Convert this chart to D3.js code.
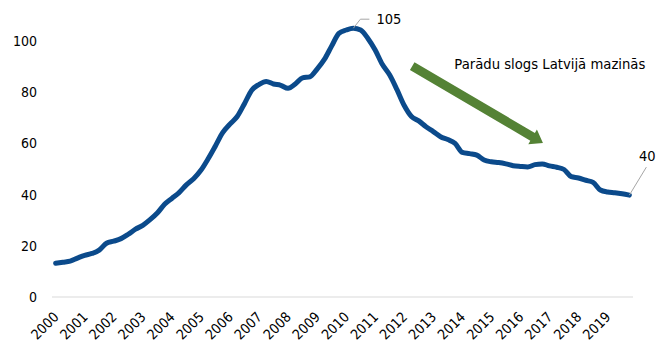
<!DOCTYPE html>
<html>
<head>
<meta charset="utf-8">
<script src="https://cdn.jsdelivr.net/npm/d3@7"></script>
<style>
  body { margin: 0; background: #fff; }
  text { font-family: "DejaVu Sans Condensed", "DejaVu Sans", sans-serif; fill: #000; }
</style>
</head>
<body>
<div id="chart"></div>
<script>
// year labels (one per 4 quarters)
const years = ['2000', '2001', '2002', '2003', '2004', '2005', '2006', '2007', '2008', '2009',
    '2010', '2011', '2012', '2013', '2014', '2015', '2016', '2017', '2018', '2019'];

// quarterly values, 2000Q1 .. 2019Q4
const values = [
    13.2, 13.6, 14.0, 15.2, 16.3, 17.0, 18.3, 21.0, 21.8, 22.8,
    24.5, 26.5, 28.0, 30.2, 32.8, 36.2, 38.5, 40.8, 43.8, 46.2,
    49.5, 54.0, 59.0, 64.2, 67.5, 70.5, 75.5, 80.8, 83.0, 84.2,
    83.2, 82.7, 81.5, 83.2, 85.6, 86.0, 89.0, 92.8, 98.0, 103.0,
    104.3, 105.0, 104.3, 101.0, 96.5, 90.8, 86.7, 81.0, 74.8, 70.5,
    68.8, 66.5, 64.6, 62.6, 61.5, 60.0, 56.5, 56.0, 55.4, 53.5,
    52.8, 52.5, 52.0, 51.3, 51.0, 50.8, 51.7, 52.0, 51.2, 50.7,
    49.8, 47.0, 46.5, 45.6, 44.8, 41.8, 41.0, 40.7, 40.3, 39.8
];

const yTicks = [0, 20, 40, 60, 80, 100];

// trend arrow, in data space (quarter index, value)
const arrowFrom = [49.1, 90.2];
const arrowTo = [67.1, 60.2];
const arrowText = 'Parādu slogs Latvijā mazinās';
const arrowTextAt = [54.9, 89];

const config = {
    width: 667,
    height: 351,
    margin: {top: 41, right: 34, bottom: 54, left: 52}
};

const innerW = config.width - config.margin.left - config.margin.right;
const innerH = config.height - config.margin.top - config.margin.bottom;

const svg = d3.select('#chart').append('svg')
    .attr('width', config.width)
    .attr('height', config.height);
const chart = svg.append('g')
    .attr('transform', `translate(${config.margin.left}, ${config.margin.top})`);

const quarters = d3.range(values.length);

const xBand = d3.scaleBand()
    .domain(quarters)
    .range([0, innerW]);
const xPos = i => xBand(0) + xBand.step() * i + xBand.bandwidth() / 2;

const yScale = d3.scaleLinear()
    .domain([0, 100])
    .range([innerH, 0]);

// y axis labels, no line, no ticks
const yAxis = d3.axisLeft(yScale)
    .tickValues(yTicks)
    .tickSize(0)
    .tickPadding(15);
const yAxisGroup = chart.append('g')
    .attr('class', 'axis y-axis')
    .call(yAxis);
yAxisGroup.select('.domain').remove();
yAxisGroup.selectAll('text')
    .style('font-family', '"DejaVu Sans Condensed", "DejaVu Sans", sans-serif')
    .style('font-size', '14px')
    .attr('fill', '#000');

// baseline
chart.append('line')
    .attr('x1', 0)
    .attr('x2', innerW)
    .attr('y1', yScale(0))
    .attr('y2', yScale(0))
    .attr('stroke', '#d9d9d9')
    .attr('stroke-width', 1);

// year labels, rotated
chart.append('g')
    .attr('class', 'axis x-axis')
    .selectAll('text')
    .data(years)
    .join('text')
    .attr('transform', (d, i) => `translate(${xPos(i * 4) - 3}, ${innerH + 14}) rotate(-45)`)
    .attr('text-anchor', 'end')
    .attr('dy', '0.7em')
    .style('font-size', '14px')
    .text(d => d);

// main line
const line = d3.line()
    .x((d, i) => xPos(i))
    .y(d => yScale(d))
    .curve(d3.curveMonotoneX);

chart.append('path')
    .attr('d', line(values))
    .attr('fill', 'none')
    .attr('stroke', '#0b4a8b')
    .attr('stroke-width', 5)
    .attr('stroke-linejoin', 'round')
    .attr('stroke-linecap', 'round');

// peak label
const peakIdx = d3.maxIndex(values);
const px = xPos(peakIdx), py = yScale(values[peakIdx]);
chart.append('path')
    .attr('d', `M${px},${py} L${px + 7},${py - 9} L${px + 16},${py - 9}`)
    .attr('fill', 'none')
    .attr('stroke', '#a6a6a6')
    .attr('stroke-width', 1);
chart.append('text')
    .attr('x', px + 23)
    .attr('y', py - 9)
    .attr('dy', '0.35em')
    .style('font-size', '14.5px')
    .text(d3.format('.0f')(values[peakIdx]));

// last value label
const lastIdx = values.length - 1;
const lx = xPos(lastIdx), ly = yScale(values[lastIdx]);
chart.append('line')
    .attr('x1', lx)
    .attr('y1', ly)
    .attr('x2', lx + 17)
    .attr('y2', ly - 28)
    .attr('stroke', '#a6a6a6')
    .attr('stroke-width', 1);
chart.append('text')
    .attr('x', lx + 18)
    .attr('y', ly - 34)
    .attr('text-anchor', 'middle')
    .style('font-size', '14.5px')
    .text(d3.format('.0f')(values[lastIdx]));

// trend arrow
const ax0 = xPos(arrowFrom[0]), ay0 = yScale(arrowFrom[1]);
const ax1 = xPos(arrowTo[0]), ay1 = yScale(arrowTo[1]);
const len = Math.hypot(ax1 - ax0, ay1 - ay0);
const ang = Math.atan2(ay1 - ay0, ax1 - ax0) * 180 / Math.PI;
const shaft = 4.5, head = 8.5, headLen = 12;
chart.append('path')
    .attr('transform', `translate(${ax0}, ${ay0}) rotate(${ang})`)
    .attr('d', `M0,${-shaft} L${len - headLen},${-shaft} L${len - headLen},${-head} L${len},0 ` +
        `L${len - headLen},${head} L${len - headLen},${shaft} L0,${shaft} Z`)
    .attr('fill', '#548235');

chart.append('text')
    .attr('x', xPos(arrowTextAt[0]))
    .attr('y', yScale(arrowTextAt[1]))
    .style('font-size', '14.7px')
    .text(arrowText);
</script>
</body>
</html>
